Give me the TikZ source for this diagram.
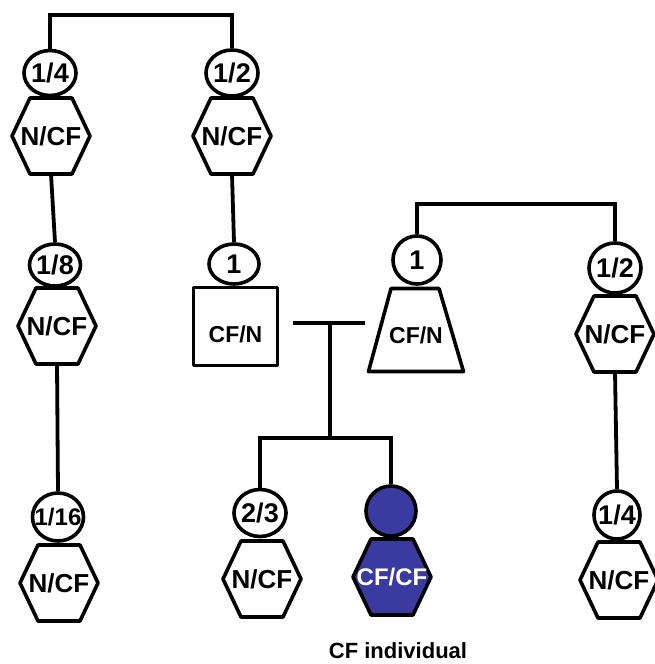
\documentclass[tikz,border=0pt]{standalone}
\usepackage{fontspec}
\setmainfont{Liberation Sans}
\usetikzlibrary{shapes.geometric}
\definecolor{cfblue}{RGB}{58,58,160}
\tikzset{
  shp/.style={draw=black, line width=3.6pt, line join=round},
  ln/.style={draw=black, line width=3.8pt},
  head/.style={ellipse, shp, fill=white, inner sep=0pt},
  lbl/.style={font=\bfseries\fontsize{27}{27}\selectfont},
  bodytxt/.style={font=\bfseries\fontsize{26}{26}\selectfont},
  body/.style={rectangle, inner sep=0pt, minimum width=78pt, minimum height=76pt, bodytxt},
  smalltxt/.style={font=\bfseries\fontsize{23}{23}\selectfont},
}
\newcommand\hexdraw[3]{%
  \filldraw[shp, fill=#1] (#2-21,#3-38) -- (#2+21,#3-38) -- (#2+39,#3) -- (#2+21,#3+38) -- (#2-21,#3+38) -- (#2-39,#3) -- cycle;}
\begin{document}
\begin{tikzpicture}[x=1pt,y=-1pt]
\useasboundingbox (0,0) rectangle (655,664);
\fill[white] (0,0) rectangle (655,664);
% hexagon outlines
\hexdraw{white}{51}{136}
\hexdraw{white}{232}{136}
\hexdraw{white}{57}{326}
\hexdraw{white}{59}{583}
\hexdraw{white}{615}{334}
\hexdraw{white}{619}{580}
\hexdraw{white}{262}{579}
\hexdraw{cfblue}{392}{577}
% trapezoid
\filldraw[shp, fill=white] (391,288.5) -- (439,288.5) -- (463.5,371.5) -- (368.5,371.5) -- cycle;
% heads
\node[head, minimum width=52pt, minimum height=45pt, label={[lbl]center:1/4}] (c1) at (50,73) {};
\node[head, minimum width=52pt, minimum height=46pt, label={[lbl]center:1/2}] (c2) at (232,73) {};
\node[head, minimum width=51pt, minimum height=42pt, label={[lbl]center:1/8}] (c3) at (55,265) {};
\node[head, minimum width=51pt, minimum height=48pt, label={[font=\bfseries\fontsize{24}{24}\selectfont]center:1/16}] (c4) at (58,517) {};
\node[head, minimum width=50pt, minimum height=40pt, label={[lbl]center:1}] (c5) at (234,264) {};
\node[head, minimum width=48pt, minimum height=48pt, label={[lbl]center:1}] (c6) at (417,260) {};
\node[head, minimum width=52pt, minimum height=50pt, label={[lbl]center:1/2}] (c7) at (615,268) {};
\node[head, minimum width=46pt, minimum height=48pt, label={[lbl]center:1/4}] (c8) at (617,515) {};
\node[head, minimum width=52pt, minimum height=47pt, label={[lbl]center:2/3}] (c9) at (260,513) {};
\node[head, minimum width=50pt, minimum height=50pt, fill=cfblue] (c10) at (391,511) {};
% bodies
\node[body] (h1) at (51,136) {N/CF};
\node[body] (h2) at (232,136) {N/CF};
\node[body] (h3) at (57,326) {N/CF};
\node[body] (h4) at (59,583) {N/CF};
\node[body] (h7) at (615,334) {N/CF};
\node[body] (h8) at (619,580) {N/CF};
\node[body] (h9) at (262,579) {N/CF};
\node[body, text=white, font=\bfseries\fontsize{24}{24}\selectfont] (h10) at (392,577) {CF/CF};
\node[shp, rectangle, inner sep=0pt, minimum width=84pt, minimum height=78pt, label={[smalltxt, yshift=-8pt]center:CF/N}] (h5) at (235.5,326.5) {};
\node[rectangle, inner sep=0pt, minimum width=95pt, minimum height=83pt, label={[smalltxt, yshift=-5pt]center:CF/N}] (h6) at (416,330) {};
% connectors
\coordinate (b1) at (47,15);
\coordinate (b2) at (413,204);
\draw[ln] (c1.north) -- (c1.north |- b1) -| (c2.north);
\draw[ln] (c6.north) -- (c6.north |- b2) -| (c7.north);
\draw[ln] (h1.south) -- (c3.north);
\draw[ln] (h3.south) -- (c4.north);
\draw[ln] (h2.south) -- (c5.north);
\draw[ln] (h7.south) -- (c8.north);
\coordinate (m1) at (293,323);
\coordinate (m2) at (365,323);
\coordinate (mid) at (330,323);
\coordinate (sib) at (330,438);
\draw[ln] (m1) -- (m2);
\draw[ln] (mid) -- (sib);
\draw[ln] (c9.north) |- (sib) -| (c10.north);
% caption
\node[anchor=base, font=\bfseries\fontsize{22}{22}\selectfont] (cap) at (398,658) {CF individual};
\end{tikzpicture}
\end{document}
